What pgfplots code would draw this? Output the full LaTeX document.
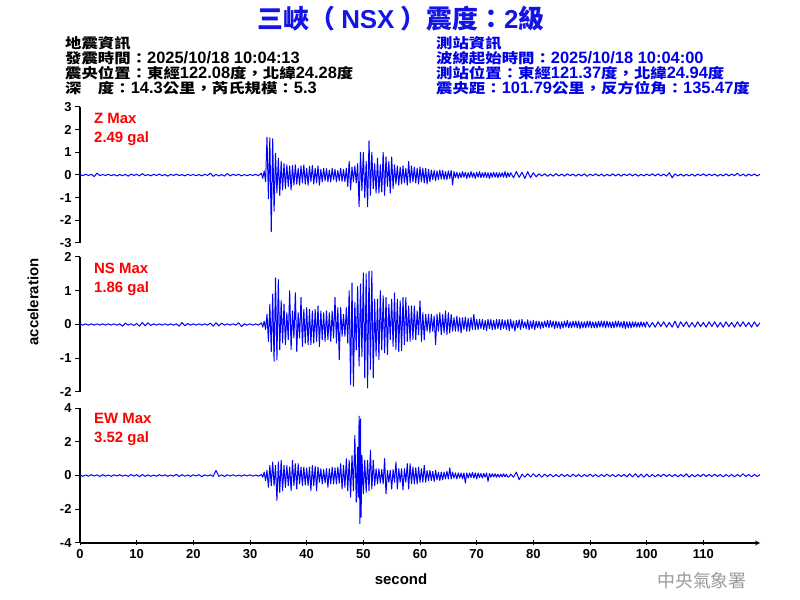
\documentclass[border=0pt]{standalone}
\usepackage{fontspec}
\setmainfont{Liberation Sans}
\newfontfamily\cjk{Noto Sans CJK TC}
\newfontfamily\cjki[Scale=0.845,FakeStretch=1.18]{Noto Sans CJK TC}
\usepackage{pgfplots}
\pgfplotsset{compat=1.18}
\definecolor{wave}{RGB}{0,0,255}
\definecolor{titleblue}{RGB}{20,20,230}
\definecolor{infoblue}{RGB}{0,0,230}
\definecolor{footgray}{RGB}{155,155,155}

\pgfplotsset{
  panel/.style={
    scale only axis, width=680bp, xmin=0, xmax=120,
    axis y line=left, axis line style={-, line width=1.2bp, black},
    tick align=outside, major tick length=5bp,
    tick style={black, line width=1bp},
    ticklabel style={font=\fontsize{13}{13}\selectfont\bfseries},
    /pgf/number format/assume math mode=true,
  },
  trace/.style={wave, line width=1bp, line join=round, mark=none},
}

\begin{document}
\begin{tikzpicture}[x=1bp,y=1bp]
\path[use as bounding box] (0,0) rectangle (800,600);

% Z component
\begin{axis}[panel, at={(80bp,357bp)}, anchor=south west, height=136bp,
  ymin=-3, ymax=3, ytick={-3,-2,...,3}, axis x line=none, xtick=\empty]
\addplot[trace] coordinates {
(0,0.02) (0.5,-0.03) (1,0.03) (1.5,-0.02) (2,0.03) (2.5,-0.07) (3,0.08) (3.5,-0.03) (4,0.02) (4.5,-0.02)
(5,0.03) (5.5,-0.03) (6,0.02) (6.5,-0.04) (7,0.02) (7.5,-0.03) (8,0.03) (8.5,-0.05) (9,0.04) (9.5,-0.02)
(10,0.03) (10.5,-0.04) (11,0.06) (11.5,-0.03) (12,0.02) (12.5,-0.04) (13,0.03) (13.5,-0.02) (14,0.04) (14.5,-0.03)
(15,0.02) (15.5,-0.05) (16,0.03) (16.5,-0.02) (17,0.04) (17.5,-0.03) (18,0.02) (18.5,-0.04) (19,0.03) (19.5,-0.02)
(20,0.02) (20.5,-0.03) (21,0.02) (21.5,-0.04) (22,0.03) (22.5,-0.02) (23,0.08) (23.5,-0.06) (24,0.03) (24.5,-0.04)
(25,0.02) (25.5,-0.05) (26,0.07) (26.5,-0.04) (27,0.03) (27.5,-0.02) (28,0.03) (28.5,-0.04) (29,0.02) (29.5,-0.03)
(30,0.02) (30.5,-0.02) (31,0.03) (31.5,-0.03)
(32,0.08) (32.25,-0.15) (32.5,0.18) (32.75,-0.3) (33,1.66) (33.25,-1.05) (33.5,1.64) (33.75,-2.5)
(34,1.6) (34.25,-1.6) (34.5,0.95) (34.75,-0.8) (35,0.74) (35.25,-0.9) (35.5,0.6) (35.75,-0.66)
(36,0.5) (36.25,-0.6) (36.5,0.45) (36.75,-0.5) (37,0.4) (37.25,-0.66) (37.5,0.42) (37.75,-0.45)
(38,0.45) (38.25,-0.4) (38.5,0.3) (38.75,-0.45) (39,0.4) (39.25,-0.35) (39.5,0.45) (39.75,-0.4)
(40,0.3) (40.25,-0.45) (40.5,0.38) (40.75,-0.3) (41,0.42) (41.25,-0.4) (41.5,0.3) (41.75,-0.35)
(42,0.4) (42.25,-0.45) (42.5,0.25) (42.75,-0.3) (43,0.3) (43.25,-0.25) (43.5,0.28) (43.75,-0.3)
(44,0.22) (44.25,-0.3) (44.5,0.3) (44.75,-0.22) (45,0.25) (45.25,-0.3) (45.5,0.2) (45.75,-0.25)
(46,0.3) (46.25,-0.28) (46.5,0.25) (46.75,-0.3) (47,0.3) (47.25,-0.5) (47.5,0.6) (47.75,-0.66)
(48,0.35) (48.25,-0.3) (48.5,0.4) (48.75,-0.35) (49,0.5) (49.25,-1.4) (49.5,1.0) (49.75,-0.7)
(50,1.0) (50.25,-1.0) (50.5,0.6) (50.75,-1.4) (51,1.5) (51.25,-0.9) (51.5,1.0) (51.75,-0.6)
(52,0.5) (52.25,-0.8) (52.5,0.74) (52.75,-0.8) (53,0.45) (53.25,-0.75) (53.5,1.0) (53.75,-0.9)
(54,0.8) (54.25,-0.5) (54.5,0.6) (54.75,-0.8) (55,0.8) (55.25,-0.6) (55.5,0.45) (55.75,-0.4)
(56,0.4) (56.25,-0.45) (56.5,0.35) (56.75,-0.4) (57,0.4) (57.25,-0.35) (57.5,0.3) (57.75,-0.45)
(58,0.6) (58.25,-0.35) (58.5,0.4) (58.75,-0.3) (59,0.35) (59.25,-0.35) (59.5,0.3) (59.75,-0.4)
(60,0.35) (60.25,-0.3) (60.5,0.3) (60.75,-0.35) (61,0.3) (61.25,-0.4) (61.5,0.25) (61.75,-0.3)
(62,0.22) (62.25,-0.2) (62.5,0.2) (62.75,-0.25) (63,0.18) (63.25,-0.2) (63.5,0.22) (63.75,-0.18)
(64,0.2) (64.25,-0.2) (64.5,0.15) (64.75,-0.2) (65,0.18) (65.25,-0.15) (65.5,0.2) (65.75,-0.44)
(66,0.15) (66.25,-0.12) (66.5,0.12) (66.75,-0.15) (67,0.1) (67.25,-0.12) (67.5,0.15) (67.75,-0.1)
(68,0.12) (68.25,-0.15) (68.5,0.1) (68.75,-0.12) (69,0.15) (69.25,-0.1) (69.5,0.1) (69.75,-0.15)
(70,0.12) (70.25,-0.1) (70.5,0.15) (70.75,-0.12) (71,0.1) (71.25,-0.1) (71.5,0.12) (71.75,-0.12)
(72,0.1) (72.25,-0.15) (72.5,0.1) (72.75,-0.1) (73,0.12) (73.25,-0.1) (73.5,0.1) (73.75,-0.12)
(74,0.1) (74.25,-0.08) (74.5,0.1) (74.75,-0.1) (75,0.15) (75.25,-0.12) (75.5,0.1) (75.75,-0.08)
(76,0.1) (76.5,-0.12) (77,0.15) (77.5,-0.1) (78,0.12) (78.5,-0.15) (79,0.15) (79.5,-0.12) (80,0.1) (80.5,-0.08)
(81,0.05) (81.5,-0.04) (82,0.05) (82.5,-0.06) (83,0.04) (83.5,-0.05) (84,0.06) (84.5,-0.04) (85,0.04) (85.5,-0.05)
(86,0.05) (86.5,-0.03) (87,0.04) (87.5,-0.05) (88,0.04) (88.5,-0.04) (89,0.05) (89.5,-0.06) (90,0.04) (90.5,-0.03)
(91,0.05) (91.5,-0.04) (92,0.04) (92.5,-0.05) (93,0.03) (93.5,-0.04) (94,0.05) (94.5,-0.04) (95,0.04) (95.5,-0.05)
(96,0.04) (96.5,-0.03) (97,0.05) (97.5,-0.04) (98,0.04) (98.5,-0.05) (99,0.03) (99.5,-0.04) (100,0.04) (100.5,-0.03)
(101,0.05) (101.5,-0.04) (102,0.05) (102.5,-0.04) (103,0.04) (103.5,-0.05) (104,0.1) (104.5,-0.12) (105,0.05) (105.5,-0.04)
(106,0.04) (106.5,-0.05) (107,0.03) (107.5,-0.04) (108,0.04) (108.5,-0.05) (109,0.04) (109.5,-0.03) (110,0.05) (110.5,-0.04)
(111,0.04) (111.5,-0.03) (112,0.04) (112.5,-0.05) (113,0.03) (113.5,-0.04) (114,0.05) (114.5,-0.04) (115,0.04) (115.5,-0.03)
(116,0.08) (116.5,-0.04) (117,0.04) (117.5,-0.05) (118,0.04) (118.5,-0.03) (119,0.04) (119.5,-0.04) (120,0.03)
};
\end{axis}

% NS component
\begin{axis}[panel, at={(80bp,208bp)}, anchor=south west, height=135bp,
  ymin=-2, ymax=2, ytick={-2,-1,...,2}, axis x line=none, xtick=\empty]
\addplot[trace] coordinates {
(0,0.02) (0.5,-0.02) (1,0.02) (1.5,-0.02) (2,0.02) (2.5,-0.02) (3,0.02) (3.5,-0.02) (4,0.02) (4.5,-0.02)
(5,0.02) (5.5,-0.02) (6,0.02) (6.5,-0.02) (7,0.02) (7.5,-0.05) (8,0.04) (8.5,-0.02) (9,0.02) (9.5,-0.03)
(10,0.03) (10.5,-0.05) (11,0.06) (11.5,-0.04) (12,0.05) (12.5,-0.03) (13,0.02) (13.5,-0.02) (14,0.02) (14.5,-0.02)
(15,0.02) (15.5,-0.02) (16,0.02) (16.5,-0.02) (17,0.02) (17.5,-0.05) (18,0.06) (18.5,-0.04) (19,0.03) (19.5,-0.02)
(20,0.02) (20.5,-0.02) (21,0.02) (21.5,-0.02) (22,0.02) (22.5,-0.02) (23,0.04) (23.5,-0.05) (24,0.05) (24.5,-0.04)
(25,0.04) (25.5,-0.02) (26,0.02) (26.5,-0.02) (27,0.02) (27.5,-0.02) (28,0.05) (28.5,-0.06) (29,0.02) (29.5,-0.02)
(30,0.02) (30.5,-0.02) (31,0.02) (31.5,-0.02)
(32,0.05) (32.25,-0.08) (32.5,0.1) (32.75,-0.15) (33,0.3) (33.25,-0.5) (33.5,0.6) (33.75,-0.8)
(34,0.9) (34.25,-1.09) (34.5,1.38) (34.75,-1.05) (35,1.33) (35.25,-0.75) (35.5,0.7) (35.75,-0.55)
(36,0.6) (36.25,-0.6) (36.5,0.35) (36.75,-0.45) (37,1.0) (37.25,-0.74) (37.5,0.4) (37.75,-0.4)
(38,0.94) (38.25,-0.8) (38.5,0.35) (38.75,-0.4) (39,0.8) (39.25,-0.65) (39.5,0.45) (39.75,-0.55)
(40,0.5) (40.25,-0.6) (40.5,0.45) (40.75,-0.6) (41,0.4) (41.25,-0.55) (41.5,0.45) (41.75,-0.5)
(42,0.55) (42.25,-0.65) (42.5,0.4) (42.75,-0.45) (43,0.35) (43.25,-0.5) (43.5,0.4) (43.75,-0.45)
(44,0.35) (44.25,-0.5) (44.5,0.4) (44.75,-0.4) (45,0.8) (45.25,-0.55) (45.5,0.5) (45.75,-1.04)
(46,0.5) (46.25,-0.35) (46.5,0.3) (46.75,-0.35) (47,0.5) (47.25,-0.55) (47.5,1.0) (47.75,-1.78)
(48,1.23) (48.25,-1.83) (48.5,0.65) (48.75,-0.75) (49,1.13) (49.25,-1.23) (49.5,1.2) (49.75,-0.95)
(50,1.53) (50.25,-1.58) (50.5,1.5) (50.75,-1.88) (51,1.58) (51.25,-1.33) (51.5,1.58) (51.75,-1.58)
(52,0.75) (52.25,-0.94) (52.5,0.75) (52.75,-1.04) (53,1.0) (53.25,-0.75) (53.5,0.85) (53.75,-0.84)
(54,0.8) (54.25,-0.89) (54.5,0.6) (54.75,-0.45) (55,0.75) (55.25,-0.65) (55.5,0.94) (55.75,-0.74)
(56,0.75) (56.25,-0.8) (56.5,0.7) (56.75,-0.78) (57,0.8) (57.25,-0.6) (57.5,0.8) (57.75,-0.5)
(58,0.55) (58.25,-0.5) (58.5,0.55) (58.75,-0.45) (59,0.55) (59.25,-0.45) (59.5,0.4) (59.75,-0.3)
(60,0.7) (60.25,-0.5) (60.5,0.35) (60.75,-0.45) (61,0.3) (61.25,-0.2) (61.5,0.3) (61.75,-0.25)
(62,0.3) (62.25,-0.2) (62.5,0.25) (62.75,-0.6) (63,0.3) (63.25,-0.2) (63.5,0.35) (63.75,-0.3)
(64,0.3) (64.25,-0.25) (64.5,0.4) (64.75,-0.3) (65,0.35) (65.25,-0.25) (65.5,0.3) (65.75,-0.2)
(66,0.2) (66.25,-0.2) (66.5,0.25) (66.75,-0.2) (67,0.2) (67.25,-0.25) (67.5,0.2) (67.75,-0.15)
(68,0.22) (68.25,-0.2) (68.5,0.18) (68.75,-0.2) (69,0.2) (69.25,-0.15) (69.5,0.3) (69.75,-0.15)
(70,0.15) (70.25,-0.15) (70.5,0.15) (70.75,-0.12) (71,0.15) (71.25,-0.15) (71.5,0.12) (71.75,-0.18)
(72,0.15) (72.25,-0.12) (72.5,0.15) (72.75,-0.15) (73,0.12) (73.25,-0.15) (73.5,0.15) (73.75,-0.12)
(74,0.15) (74.25,-0.15) (74.5,0.15) (74.75,-0.12) (75,0.12) (75.25,-0.15) (75.5,0.15) (75.75,-0.18)
(76,0.15) (76.25,-0.12) (76.5,0.1) (76.75,-0.2) (77,0.12) (77.25,-0.1) (77.5,0.14) (77.75,-0.15) (78,0.15) (78.25,-0.1)
(78.5,0.08) (78.75,-0.12) (79,0.14) (79.25,-0.16) (79.5,0.1) (79.75,-0.12) (80,0.12) (80.25,-0.15) (80.5,0.1) (80.75,-0.1)
(81,0.1) (81.25,-0.12) (81.5,0.08) (81.75,-0.1) (82,0.1) (82.25,-0.08) (82.5,0.12) (82.75,-0.1) (83,0.12) (83.25,-0.08)
(83.5,0.1) (83.75,-0.12) (84,0.1) (84.25,-0.1) (84.5,0.08) (84.75,-0.12) (85,0.08) (85.25,-0.1) (85.5,0.1) (85.75,-0.08)
(86,0.12) (86.25,-0.1) (86.5,0.08) (86.75,-0.1) (87,0.1) (87.25,-0.08) (87.5,0.1) (87.75,-0.1) (88,0.1) (88.25,-0.12)
(88.5,0.08) (88.75,-0.1) (89,0.08) (89.25,-0.1) (89.5,0.1) (89.75,-0.08) (90,0.1) (90.25,-0.1) (90.5,0.08) (90.75,-0.1)
(91,0.08) (91.25,-0.1) (91.5,0.1) (91.75,-0.08) (92,0.1) (92.25,-0.08) (92.5,0.1) (92.75,-0.1) (93,0.1) (93.25,-0.08)
(93.5,0.08) (93.75,-0.1) (94,0.08) (94.25,-0.1) (94.5,0.1) (94.75,-0.08) (95,0.1) (95.25,-0.08) (95.5,0.08) (95.75,-0.1)
(96,0.1) (96.25,-0.12) (96.5,0.08) (96.75,-0.1) (97,0.08) (97.25,-0.1) (97.5,0.08) (97.75,-0.08) (98,0.08) (98.25,-0.08)
(98.5,0.06) (98.75,-0.08) (99,0.08) (99.25,-0.06) (99.5,0.06) (99.75,-0.08)
(100,0.08) (100.5,-0.08)
(101,0.06) (101.5,-0.08) (102,0.08) (102.5,-0.06) (103,0.08) (103.5,-0.08) (104,0.06) (104.5,-0.08) (105,0.1) (105.5,-0.1)
(106,0.08) (106.5,-0.06) (107,0.08) (107.5,-0.08) (108,0.06) (108.5,-0.08) (109,0.08) (109.5,-0.06) (110,0.06) (110.5,-0.08)
(111,0.08) (111.5,-0.06) (112,0.08) (112.5,-0.08) (113,0.06) (113.5,-0.08) (114,0.08) (114.5,-0.06) (115,0.06) (115.5,-0.08)
(116,0.08) (116.5,-0.06) (117,0.08) (117.5,-0.06) (118,0.06) (118.5,-0.08) (119,0.08) (119.5,-0.06) (120,0.05)
};
\end{axis}

% EW component
\begin{axis}[panel, at={(80bp,57bp)}, anchor=south west, height=135bp,
  ymin=-4, ymax=4, ytick={-4,-2,...,4},
  axis x line=bottom, xtick={0,10,...,110}]
\addplot[trace] coordinates {
(0,0.04) (0.5,-0.05) (1,0.03) (1.5,-0.04) (2,0.05) (2.5,-0.03) (3,0.04) (3.5,-0.06) (4,0.05) (4.5,-0.04)
(5,0.03) (5.5,-0.05) (6,0.04) (6.5,-0.03) (7,0.05) (7.5,-0.04) (8,0.03) (8.5,-0.05) (9,0.06) (9.5,-0.04)
(10,0.05) (10.5,-0.07) (11,0.06) (11.5,-0.05) (12,0.04) (12.5,-0.05) (13,0.03) (13.5,-0.04) (14,0.05) (14.5,-0.03)
(15,0.04) (15.5,-0.05) (16,0.03) (16.5,-0.04) (17,0.07) (17.5,-0.06) (18,0.05) (18.5,-0.04) (19,0.03) (19.5,-0.05)
(20,0.04) (20.5,-0.03) (21,0.05) (21.5,-0.07) (22,0.04) (22.5,-0.03) (23,0.04) (23.5,-0.05) (24,0.3) (24.5,-0.05)
(25,0.04) (25.5,-0.06) (26,0.04) (26.5,-0.03) (27,0.04) (27.5,-0.04) (28,0.03) (28.5,-0.04) (29,0.04) (29.5,-0.03)
(30,0.04) (30.5,-0.04) (31,0.03) (31.5,-0.04)
(32,0.06) (32.25,-0.1) (32.5,0.2) (32.75,-0.3) (33,0.3) (33.25,-0.7) (33.5,0.6) (33.75,-0.6)
(34,0.8) (34.25,-0.6) (34.5,0.6) (34.75,-1.48) (35,0.8) (35.25,-1.0) (35.5,0.9) (35.75,-0.9)
(36,0.6) (36.25,-0.7) (36.5,0.6) (36.75,-0.6) (37,0.5) (37.25,-0.9) (37.5,0.9) (37.75,-0.6)
(38,0.7) (38.25,-0.8) (38.5,0.7) (38.75,-0.5) (39,0.5) (39.25,-0.6) (39.5,0.5) (39.75,-0.55)
(40,0.45) (40.25,-0.6) (40.5,0.5) (40.75,-0.9) (41,0.6) (41.25,-0.6) (41.5,0.55) (41.75,-0.9)
(42,0.5) (42.25,-0.4) (42.5,0.4) (42.75,-0.5) (43,0.35) (43.25,-0.45) (43.5,0.4) (43.75,-0.7)
(44,0.4) (44.25,-0.5) (44.5,0.5) (44.75,-0.5) (45,0.45) (45.25,-0.5) (45.5,0.5) (45.75,-0.45)
(46,0.7) (46.25,-0.8) (46.5,0.6) (46.75,-0.7) (47,1.0) (47.25,-0.9) (47.5,0.9) (47.75,-1.28)
(48,1.18) (48.25,-0.9) (48.5,2.37) (48.75,-1.58) (49,1.68) (49.1,-1.3) (49.25,3.52) (49.4,-2.86) (49.5,3.35) (49.6,-2.47)
(49.75,1.2) (50,-1.08) (50.25,0.9) (50.5,-1.0) (50.75,0.9) (51,-0.9) (51.25,1.5) (51.5,-0.8) (51.75,0.9) (52,-0.6)
(52.25,0.4) (52.5,-0.5) (52.75,0.4) (53,-0.45) (53.25,0.35) (53.5,-0.5) (53.75,1.0) (54,-1.08) (54.25,0.3) (54.5,-0.4)
(54.75,0.3) (55,-0.8) (55.25,0.35) (55.5,-0.4) (55.75,0.8) (56,-0.8) (56.25,0.4) (56.5,-0.4) (56.75,0.4) (57,-0.85)
(57.25,0.4) (57.5,-0.4) (57.75,0.7) (58,-0.8) (58.25,0.7) (58.5,-0.5) (58.75,0.5) (59,-0.5) (59.25,0.45) (59.5,-0.5)
(59.75,0.5) (60,-0.4) (60.25,0.4) (60.5,-0.4) (60.75,0.6) (61,-0.4) (61.25,0.3) (61.5,-0.3) (61.75,0.3) (62,-0.3)
(62.25,0.25) (62.5,-0.35) (62.75,0.3) (63,-0.25) (63.25,0.2) (63.5,-0.3) (63.75,0.2) (64,-0.25) (64.25,0.2) (64.5,-0.2)
(64.75,0.25) (65,-0.2) (65.25,0.45) (65.5,-0.2) (65.75,0.2) (66,-0.15) (66.25,0.15) (66.5,-0.2) (66.75,0.15) (67,-0.15)
(67.25,0.15) (67.5,-0.2) (67.75,0.15) (68,-0.45) (68.25,0.15) (68.5,-0.15) (68.75,0.15) (69,-0.12) (69.25,0.18) (69.5,-0.15)
(69.75,0.15) (70,-0.2) (70.25,0.15) (70.5,-0.12) (70.75,0.12) (71,-0.15) (71.25,0.12) (71.5,-0.1) (71.75,0.15) (72,-0.35)
(72.25,0.12) (72.5,-0.1) (72.75,0.1) (73,-0.08) (73.25,0.1) (73.5,-0.1) (73.75,0.08) (74,-0.1) (74.25,0.08) (74.5,-0.08)
(74.75,0.1) (75,-0.08) (75.25,0.08) (75.5,-0.1) (75.75,-0.06)
(76,0.08) (76.5,-0.1) (77,0.2) (77.5,-0.25) (78,0.08) (78.5,-0.1) (79,0.1) (79.5,-0.08) (80,0.1) (80.5,-0.08)
(81,0.08) (81.5,-0.1) (82,0.08) (82.5,-0.06) (83,0.08) (83.5,-0.08) (84,0.06) (84.5,-0.08) (85,0.08) (85.5,-0.06)
(86,0.06) (86.5,-0.08) (87,0.08) (87.5,-0.06) (88,0.06) (88.5,-0.08) (89,0.06) (89.5,-0.06) (90,0.08) (90.5,-0.06)
(91,0.06) (91.5,-0.08) (92,0.06) (92.5,-0.06) (93,0.08) (93.5,-0.06) (94,0.06) (94.5,-0.08) (95,0.06) (95.5,-0.06)
(96,0.06) (96.5,-0.08) (97,0.1) (97.5,-0.08) (98,0.1) (98.5,-0.1) (99,0.08) (99.5,-0.1) (100,0.08) (100.5,-0.08)
(101,0.06) (101.5,-0.08) (102,0.06) (102.5,-0.06) (103,0.08) (103.5,-0.06) (104,0.06) (104.5,-0.06) (105,0.06) (105.5,-0.08)
(106,0.06) (106.5,-0.06) (107,0.1) (107.5,-0.1) (108,0.06) (108.5,-0.08) (109,0.06) (109.5,-0.06) (110,0.08) (110.5,-0.06)
(111,0.06) (111.5,-0.06) (112,0.08) (112.5,-0.06) (113,0.06) (113.5,-0.08) (114,0.06) (114.5,-0.06) (115,0.06) (115.5,-0.08)
(116,0.06) (116.5,-0.06) (117,0.1) (117.5,-0.06) (118,0.06) (118.5,-0.08) (119,0.06) (119.5,-0.06) (120,0.05)
};
\end{axis}

% title
\node[anchor=base, text=titleblue, font=\fontsize{26}{26}\selectfont\bfseries] at (401,571.5)
  {{\cjk 三峽（}\hspace{6bp}NSX\hspace{6bp}{\cjk ）震度：}2{\cjk 級}};

% event and station information
\begin{scope}[every node/.style={anchor=base west, inner sep=0pt, font=\fontsize{16.5}{15}\selectfont\bfseries}]
\node at (65,551) {\cjki 地震資訊};
\node at (65,536) {{\cjki 發震時間：}2025/10/18 10:04:13};
\node at (65,521) {{\cjki 震央位置：東經}122.08{\cjki 度，北緯}24.28{\cjki 度}};
\node at (65,506) {{\cjki 深　度：}14.3{\cjki 公里，芮氏規模：}5.3};
\node[text=infoblue] at (436,551) {\cjki 測站資訊};
\node[text=infoblue] at (436,536) {{\cjki 波線起始時間：}2025/10/18 10:04:00};
\node[text=infoblue] at (436,521) {{\cjki 測站位置：東經}121.37{\cjki 度，北緯}24.94{\cjki 度}};
\node[text=infoblue] at (436,506) {{\cjki 震央距：}101.79{\cjki 公里，反方位角：}135.47{\cjki 度}};
\end{scope}

% component labels
\begin{scope}[every node/.style={anchor=base west, inner sep=0pt, text=red, font=\fontsize{15}{15}\selectfont\bfseries}]
\node at (94,476.5) {Z Max};
\node at (94,457) {2.49 gal};
\node at (94,326.5) {NS Max};
\node at (94,307) {1.86 gal};
\node at (94,176.5) {EW Max};
\node at (94,157) {3.52 gal};
\end{scope}

% axis titles and footer
\node[rotate=90, font=\fontsize{15}{15}\selectfont\bfseries] at (33,298) {acceleration};
\node[anchor=base, font=\fontsize{15}{15}\selectfont\bfseries] at (401,15) {second};
\node[text=footgray, font=\fontsize{18}{18}\selectfont\cjk] at (702,19) {中央氣象署};
\end{tikzpicture}
\end{document}
